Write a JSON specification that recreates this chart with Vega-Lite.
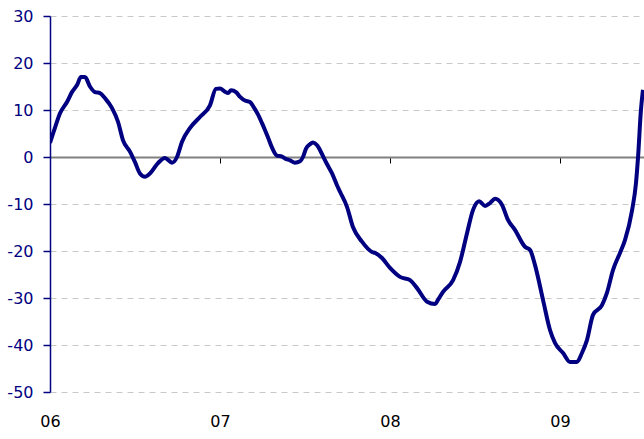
{
  "$schema": "https://vega.github.io/schema/vega-lite/v6.json",
  "width": 594,
  "height": 376,
  "autosize": {"type": "none"},
  "padding": {"left": 50, "top": 16, "right": 0, "bottom": 47},
  "background": "white",
  "config": {"view": {"stroke": null}},
  "data": {"values": [
    {"t": 2006.000, "v": 3.0}, {"t": 2006.029, "v": 6.2}, {"t": 2006.059, "v": 9.3}, {"t": 2006.100, "v": 11.7},
    {"t": 2006.129, "v": 13.8}, {"t": 2006.159, "v": 15.3}, {"t": 2006.182, "v": 17.0}, {"t": 2006.206, "v": 17.0},
    {"t": 2006.235, "v": 15.0}, {"t": 2006.265, "v": 13.8}, {"t": 2006.294, "v": 13.6}, {"t": 2006.324, "v": 12.5},
    {"t": 2006.365, "v": 10.4}, {"t": 2006.400, "v": 7.5}, {"t": 2006.429, "v": 3.6}, {"t": 2006.471, "v": 1.1},
    {"t": 2006.500, "v": -1.1}, {"t": 2006.529, "v": -3.5}, {"t": 2006.559, "v": -4.2}, {"t": 2006.588, "v": -3.5},
    {"t": 2006.635, "v": -1.3}, {"t": 2006.676, "v": -0.2}, {"t": 2006.718, "v": -1.2}, {"t": 2006.747, "v": 0.0},
    {"t": 2006.776, "v": 3.2}, {"t": 2006.824, "v": 6.2}, {"t": 2006.882, "v": 8.5}, {"t": 2006.941, "v": 11.0},
    {"t": 2006.976, "v": 14.5}, {"t": 2007.000, "v": 14.6}, {"t": 2007.029, "v": 13.9}, {"t": 2007.047, "v": 13.6},
    {"t": 2007.065, "v": 14.2}, {"t": 2007.094, "v": 13.8}, {"t": 2007.118, "v": 12.8}, {"t": 2007.147, "v": 12.0},
    {"t": 2007.176, "v": 11.7}, {"t": 2007.200, "v": 10.5}, {"t": 2007.224, "v": 9.0}, {"t": 2007.247, "v": 7.2},
    {"t": 2007.265, "v": 5.7}, {"t": 2007.282, "v": 4.2}, {"t": 2007.306, "v": 2.0}, {"t": 2007.335, "v": 0.3},
    {"t": 2007.365, "v": 0.1}, {"t": 2007.382, "v": -0.3}, {"t": 2007.412, "v": -0.7}, {"t": 2007.441, "v": -1.2},
    {"t": 2007.471, "v": -0.9}, {"t": 2007.488, "v": 0.0}, {"t": 2007.506, "v": 1.8}, {"t": 2007.529, "v": 2.7},
    {"t": 2007.547, "v": 3.1}, {"t": 2007.571, "v": 2.5}, {"t": 2007.588, "v": 1.5}, {"t": 2007.612, "v": -0.3},
    {"t": 2007.629, "v": -1.5}, {"t": 2007.659, "v": -3.5}, {"t": 2007.688, "v": -6.0}, {"t": 2007.706, "v": -7.4},
    {"t": 2007.747, "v": -10.6}, {"t": 2007.782, "v": -14.9}, {"t": 2007.835, "v": -18.0}, {"t": 2007.894, "v": -20.2},
    {"t": 2007.912, "v": -20.4}, {"t": 2007.953, "v": -21.5}, {"t": 2008.000, "v": -23.6}, {"t": 2008.059, "v": -25.5},
    {"t": 2008.118, "v": -26.2}, {"t": 2008.159, "v": -27.9}, {"t": 2008.218, "v": -30.8}, {"t": 2008.265, "v": -31.3},
    {"t": 2008.282, "v": -30.4}, {"t": 2008.312, "v": -28.7}, {"t": 2008.371, "v": -26.2}, {"t": 2008.412, "v": -22.3},
    {"t": 2008.453, "v": -16.2}, {"t": 2008.488, "v": -11.3}, {"t": 2008.524, "v": -9.4}, {"t": 2008.559, "v": -10.4},
    {"t": 2008.588, "v": -9.8}, {"t": 2008.618, "v": -8.9}, {"t": 2008.659, "v": -10.2}, {"t": 2008.694, "v": -13.4},
    {"t": 2008.735, "v": -15.5}, {"t": 2008.794, "v": -19.1}, {"t": 2008.824, "v": -19.8}, {"t": 2008.853, "v": -23.0},
    {"t": 2008.900, "v": -30.4}, {"t": 2008.941, "v": -36.8}, {"t": 2008.971, "v": -39.6}, {"t": 2009.018, "v": -41.7},
    {"t": 2009.059, "v": -43.6}, {"t": 2009.100, "v": -43.6}, {"t": 2009.129, "v": -41.7}, {"t": 2009.159, "v": -38.9},
    {"t": 2009.194, "v": -33.6}, {"t": 2009.247, "v": -31.5}, {"t": 2009.276, "v": -28.9}, {"t": 2009.312, "v": -24.0},
    {"t": 2009.353, "v": -20.4}, {"t": 2009.382, "v": -17.7}, {"t": 2009.424, "v": -11.3}, {"t": 2009.447, "v": -5.5},
    {"t": 2009.459, "v": 0.0}, {"t": 2009.476, "v": 10.0}, {"t": 2009.488, "v": 14.3}
  ]},
  "mark": {"type": "line", "color": "#000080", "strokeWidth": 4, "interpolate": "monotone", "clip": true},
  "encoding": {
    "x": {
      "field": "t", "type": "quantitative",
      "scale": {"domain": [2006, 2009.494], "nice": false, "zero": false},
      "axis": {
        "title": null, "values": [2006, 2007, 2008, 2009], "grid": false,
        "labelExpr": "'0' + (datum.value - 2000)",
        "offset": -235, "domainColor": "#808080", "domainWidth": 2,
        "tickColor": "#000000", "tickSize": 6, "tickWidth": 1,
        "labelPadding": 250, "labelFont": "DejaVu Sans", "labelFontSize": 16,
        "labelColor": "#000000", "labelAlign": "center"
      }
    },
    "y": {
      "field": "v", "type": "quantitative",
      "scale": {"domain": [-50, 30], "nice": false},
      "axis": {
        "title": null, "values": [-50, -40, -30, -20, -10, 0, 10, 20, 30],
        "labelExpr": "'' + datum.value",
        "grid": true, "gridColor": "#c8c8c8", "gridDash": [6, 5], "gridWidth": 1,
        "domainColor": "#000080", "domainWidth": 1.5,
        "tickColor": "#000080", "tickSize": 7, "tickWidth": 1.5,
        "labelPadding": 10, "labelFont": "DejaVu Sans", "labelFontSize": 16,
        "labelColor": "#000080"
      }
    }
  }
}
